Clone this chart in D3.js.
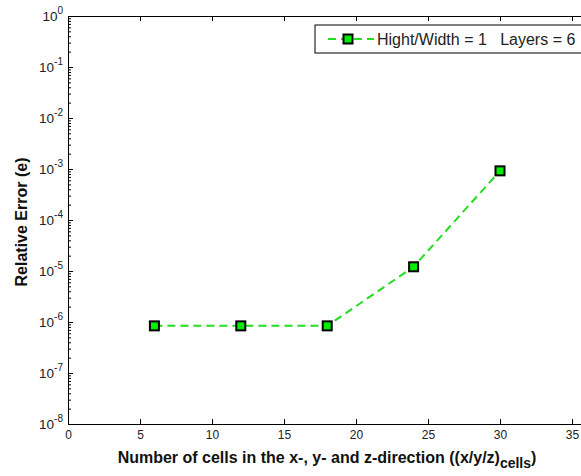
<!DOCTYPE html>
<html>
<head>
<meta charset="utf-8">
<script src="https://d3js.org/d3.v7.min.js"></script>
<style>
  body { margin: 0; background: #fff; }
  .tick text { font-family: "Liberation Sans", Arial, sans-serif; font-size: 12px; fill: #222; }
  .axis path, .axis line { stroke: #000; }
</style>
</head>
<body>
<svg id="chart" width="581" height="476"></svg>
<script>
// data
const cells = [6, 12, 18, 24, 30];
const relError = [8.4e-7, 8.4e-7, 8.4e-7, 1.21e-5, 9.2e-4];
const xTicks = [0, 5, 10, 15, 20, 25, 30, 35];
const yExponents = [0, -1, -2, -3, -4, -5, -6, -7, -8];
const legendLabel = "Hight/Width = 1   Layers = 6";

const svg = d3.select("svg#chart");
const margin = {left: 68, top: 16, bottom: 424};
const pxPerUnit = 14.4;

// plot box runs past the right edge of the picture (xlim 0..40)
const x = d3.scaleLinear().domain([0, 40]).range([margin.left, margin.left + 40 * pxPerUnit]);
const y = d3.scaleLog().domain([1e-8, 1]).range([margin.bottom, margin.top]);

const majorY = yExponents.map(e => Math.pow(10, e));
let minorY = [];
yExponents.slice(1).forEach(e => {
    for (let k = 2; k <= 9; k++) minorY.push(k * Math.pow(10, e));
});

// bottom axis
svg.append("g")
   .attr("class", "axis")
   .attr("transform", `translate(0, ${margin.bottom})`)
   .call(d3.axisBottom(x).tickValues(xTicks).tickSizeInner(-5).tickSizeOuter(0).tickPadding(6).tickFormat(d3.format("d")));

// top axis
svg.append("g")
   .attr("class", "axis")
   .attr("transform", `translate(0, ${margin.top})`)
   .call(d3.axisTop(x).tickValues(xTicks).tickSizeInner(-5).tickSizeOuter(0).tickFormat(""));

// left axis, minor ticks
svg.append("g")
   .attr("class", "axis")
   .attr("transform", `translate(${margin.left}, 0)`)
   .call(d3.axisLeft(y).tickValues(minorY).tickSizeInner(-3).tickSizeOuter(0).tickFormat(""));

// left axis, major ticks with 10^n labels
let leftAxis = svg.append("g")
   .attr("class", "axis")
   .attr("transform", `translate(${margin.left}, 0)`)
   .call(d3.axisLeft(y).tickValues(majorY).tickSizeInner(-5).tickSizeOuter(0).tickPadding(5).tickFormat(""));

leftAxis.selectAll(".tick text").each(function(d) {
    const t = d3.select(this).text(null).attr("dy", "0.36em").style("font-size", "13.5px");
    t.append("tspan").text("10");
    t.append("tspan")
     .attr("dy", "-0.7em")
     .style("font-size", "10px")
     .text(Math.round(Math.log10(d)));
});

// line + markers
const line = d3.line().x((d, i) => x(cells[i])).y(d => y(d));

svg.append("path")
   .datum(relError)
   .attr("d", line)
   .attr("fill", "none")
   .attr("stroke", "#22dd22")
   .attr("stroke-width", 2)
   .attr("stroke-dasharray", "8,5");

svg.selectAll("rect.marker")
   .data(relError)
   .join("rect")
   .attr("class", "marker")
   .attr("x", (d, i) => x(cells[i]) - 4.5)
   .attr("y", d => y(d) - 4.5)
   .attr("width", 9)
   .attr("height", 9)
   .attr("fill", "#00ee00")
   .attr("stroke", "#000")
   .attr("stroke-width", 2);

// legend
const legend = svg.append("g").attr("transform", "translate(315, 25)");
legend.append("rect")
      .attr("width", 280).attr("height", 28)
      .attr("fill", "#fff").attr("stroke", "#000").attr("stroke-width", 1);
legend.append("line")
      .attr("x1", 13).attr("x2", 59).attr("y1", 14).attr("y2", 14)
      .attr("stroke", "#22dd22").attr("stroke-width", 2).attr("stroke-dasharray", "8,5");
legend.append("rect")
      .attr("x", 33 - 4.5).attr("y", 14 - 4.5).attr("width", 9).attr("height", 9)
      .attr("fill", "#00ee00").attr("stroke", "#000").attr("stroke-width", 2);
legend.append("text")
      .attr("x", 62).attr("y", 20)
      .style("font-family", "Liberation Sans, Arial, sans-serif")
      .style("font-size", "16px").style("fill", "#222")
      .style("white-space", "pre")
      .text(legendLabel);

// axis titles
let xTitle = svg.append("text")
   .attr("x", 327).attr("y", 463)
   .attr("text-anchor", "middle")
   .style("font-family", "Liberation Sans, Arial, sans-serif")
   .style("font-size", "16px").style("font-weight", "bold").style("fill", "#111");
xTitle.append("tspan").text("Number of cells in the x-, y- and z-direction ((x/y/z)");
xTitle.append("tspan").attr("dy", 5).style("font-size", "14px").text("cells");
xTitle.append("tspan").attr("dy", -5).text(")");

svg.append("text")
   .attr("transform", "translate(27, 222) rotate(-90)")
   .attr("text-anchor", "middle")
   .style("font-family", "Liberation Sans, Arial, sans-serif")
   .style("font-size", "16px").style("font-weight", "bold").style("fill", "#111")
   .text("Relative Error (e)");
</script>
</body>
</html>
